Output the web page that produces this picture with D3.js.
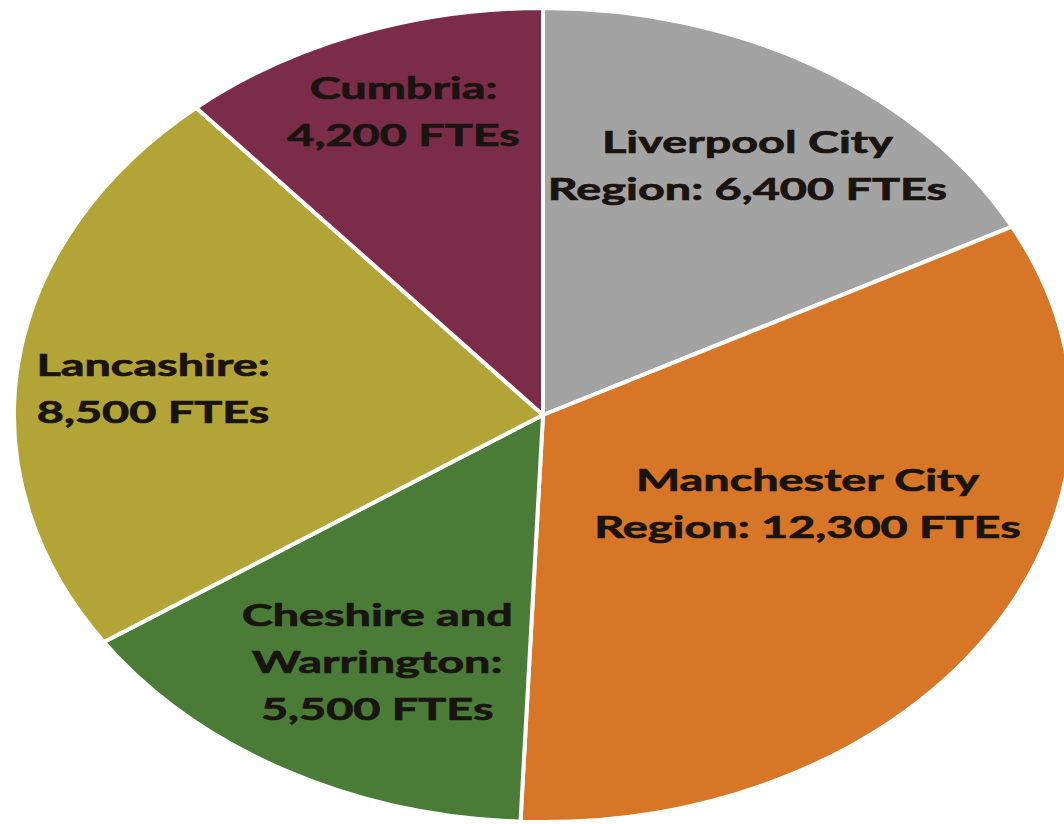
<!DOCTYPE html>
<meta charset="utf-8">
<script src="https://d3js.org/d3.v7.min.js"></script>
<style>
    body { margin: 0; background: #ffffff; }
    .slice-label {
        font-family: Lato, "Open Sans", sans-serif;
        font-weight: 700;
        font-size: 30px;
        fill: #1a1410;
        stroke: #1a1410;
        stroke-width: 0.7px;
        white-space: pre;
    }
</style>
<div id="my_dataviz"></div>
<script>
    // data
    var categories = ["Liverpool City Region", "Manchester City Region", "Cheshire and Warrington", "Lancashire", "Cumbria"];
    var values = [6400, 12300, 5500, 8500, 4200];
    var nameLines = [["Liverpool City", "Region"], ["Manchester City", "Region"], ["Cheshire and", "Warrington"], ["Lancashire"], ["Cumbria"]];
    var valueInline = [true, true, false, false, false];
    var colors = ["#a4a3a3", "#d87628", "#4a7c38", "#b3a438", "#7a2c48"];

    // label placement (fraction of radius, angle nudge in degrees)
    var labelRadius = [0.725, 0.545, 0.684, 0.74, 0.79];
    var labelNudge = [1, -9, -2, -2.5, 1];

    var width = 1064, height = 824;
    var cx = 543, cy = 415, rx = 529, ry = 407;
    var lineGap = 47;
    var textStretch = 1.2;

    var svg = d3.select("#my_dataviz")
        .append("svg")
        .attr("width", width)
        .attr("height", height);

    // the pie is drawn as a circle and stretched sideways into an ellipse
    var g = svg.append("g")
        .attr("transform", "translate(" + cx + "," + cy + ") scale(" + (rx / ry) + ",1)");

    var pie = d3.pie().sort(null).value(function (d) { return d; });
    var arcs = pie(values);
    var arc = d3.arc().innerRadius(0).outerRadius(ry);

    g.selectAll("path")
        .data(arcs)
        .enter()
        .append("path")
        .attr("d", arc)
        .attr("fill", function (d, i) { return colors[i]; })
        .attr("stroke", "#ffffff")
        .attr("stroke-width", 4)
        .attr("vector-effect", "non-scaling-stroke")
        .attr("stroke-linejoin", "round");

    var fmt = d3.format(",");
    function labelText(i) {
        var lines = nameLines[i].slice();
        lines[lines.length - 1] += ":";
        var v = fmt(values[i]) + " FTEs";
        if (valueInline[i]) lines[lines.length - 1] += " " + v;
        else lines.push(v);
        return lines;
    }

    var labels = g.selectAll("text.slice-label")
        .data(arcs)
        .enter()
        .append("text")
        .attr("class", "slice-label")
        .attr("text-anchor", "middle")
        .attr("transform", function (d, i) {
            var a = (d.startAngle + d.endAngle) / 2 + labelNudge[i] * Math.PI / 180;
            var r = ry * labelRadius[i];
            return "translate(" + (Math.sin(a) * r) + "," + (-Math.cos(a) * r) + ") scale(" + textStretch + ",1)";
        });

    labels.each(function (d, i) {
        var lines = labelText(i);
        var t = d3.select(this);
        lines.forEach(function (s, k) {
            t.append("tspan")
                .attr("x", 0)
                .attr("y", (k - (lines.length - 1) / 2) * lineGap + 11)
                .text(s);
        });
    });
</script>
